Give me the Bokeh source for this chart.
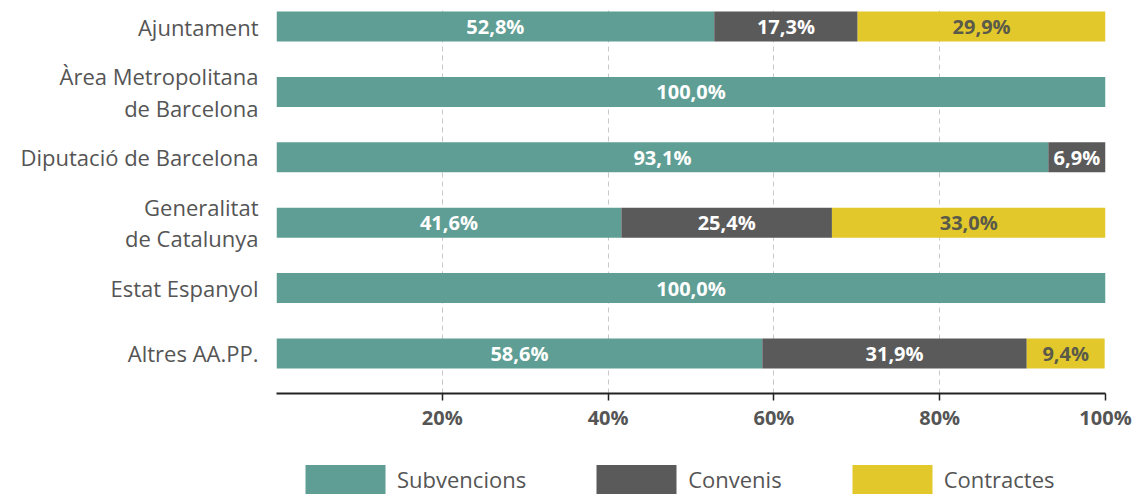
from bokeh.plotting import figure
from bokeh.layouts import column
from bokeh.models import Range1d, FixedTicker, Legend, LegendItem, ColumnDataSource
from bokeh.core.properties import value
from bokeh.embed import file_html
from bokeh.resources import INLINE

categories = ["Ajuntament", "Àrea Metropolitana\nde Barcelona", "Diputació de Barcelona",
              "Generalitat\nde Catalunya", "Estat Espanyol", "Altres AA.PP."]
subvencions = [52.8, 100.0, 93.1, 41.6, 100.0, 58.6]
convenis = [17.3, 0.0, 6.9, 25.4, 0.0, 31.9]
contractes = [29.9, 0.0, 0.0, 33.0, 0.0, 9.4]
series_names = ["Subvencions", "Convenis", "Contractes"]
colors = ["#5f9e94", "#5a5a5a", "#e3c82c"]
label_colors = ["white", "white", "#5a5a4a"]
x_ticks = [20, 40, 60, 80, 100]

n = len(categories)
ypos = [n - 1 - i for i in range(n)]

FONT = "Open Sans"
p = figure(width=1142, height=440, output_backend="svg", toolbar_location=None,
           x_range=Range1d(0, 100), y_range=Range1d(-0.613, 5.261),
           min_border_left=276, min_border_right=37, min_border_top=9, min_border_bottom=47)
p.outline_line_color = None
p.background_fill_color = "white"
p.border_fill_color = "white"

data = dict(y=ypos, Subvencions=subvencions, Convenis=convenis, Contractes=contractes)
src = ColumnDataSource(data)
renderers = p.hbar_stack(series_names, y="y", height=0.46, color=colors, source=src, line_color=None)

# value labels
series = [subvencions, convenis, contractes]
for si, vals in enumerate(series):
    xs, ys, txt = [], [], []
    for ci in range(n):
        v = vals[ci]
        if v <= 0:
            continue
        start = sum(series[k][ci] for k in range(si))
        xs.append(start + v / 2)
        ys.append(ypos[ci])
        txt.append(f"{v:.1f}".replace(".", ",") + "%")
    p.text(x=xs, y=ys, text=txt, text_align="center", text_baseline="middle",
           text_font=value(FONT), text_font_style="bold", text_font_size="20px",
           text_color=label_colors[si])

# x axis
p.xaxis.ticker = FixedTicker(ticks=x_ticks)
p.xaxis.major_label_overrides = {t: f"{t}%" for t in x_ticks}
p.xaxis.axis_line_color = "#222222"
p.xaxis.axis_line_width = 2
p.xaxis.major_tick_line_color = "#222222"
p.xaxis.major_tick_line_width = 1.5
p.xaxis.major_tick_out = 7
p.xaxis.major_tick_in = 0
p.xaxis.minor_tick_line_color = None
p.xaxis.major_label_text_font = FONT
p.xaxis.major_label_text_font_style = "bold"
p.xaxis.major_label_text_font_size = "20px"
p.xaxis.major_label_text_color = "#555555"
p.xaxis.major_label_standoff = 3

# y axis
p.yaxis.ticker = FixedTicker(ticks=ypos)
p.yaxis.major_label_overrides = {ypos[i]: categories[i] for i in range(n)}
p.yaxis.axis_line_color = None
p.yaxis.major_tick_line_color = None
p.yaxis.minor_tick_line_color = None
p.yaxis.major_label_text_font = FONT
p.yaxis.major_label_text_font_size = "22px"
p.yaxis.major_label_text_line_height = 1.05
p.yaxis.major_label_text_color = "#555555"
p.yaxis.major_label_standoff = 12

p.ygrid.grid_line_color = None
p.xgrid.ticker = FixedTicker(ticks=x_ticks)
p.xgrid.grid_line_color = "#c8c8c8"
p.xgrid.grid_line_dash = "5 4"
p.xgrid.grid_line_width = 1

# legend strip (same series, drawn outside its visible range; only the legend shows)
lg = figure(width=1142, height=55, output_backend="svg", toolbar_location=None,
            x_range=Range1d(0, 100), y_range=Range1d(50, 51),
            min_border_left=0, min_border_right=0, min_border_top=0, min_border_bottom=0)
lg.axis.visible = False
lg.grid.visible = False
lg.outline_line_color = None
lg_renderers = lg.hbar_stack(series_names, y="y", height=0.46, color=colors, source=src, line_color=None)
legend = Legend(items=[LegendItem(label=series_names[i], renderers=[lg_renderers[i]]) for i in range(3)],
                orientation="horizontal", location=(19, -2),
                glyph_width=100, glyph_height=36, label_height=36, label_standoff=2,
                spacing=60, padding=0, margin=0, border_line_color=None,
                background_fill_alpha=0,
                label_text_font=FONT, label_text_font_size="22px", label_text_color="#555555")
lg.add_layout(legend, "center")

layout = column(p, lg, spacing=0)
open("out.html", "w").write(file_html(layout, INLINE))
